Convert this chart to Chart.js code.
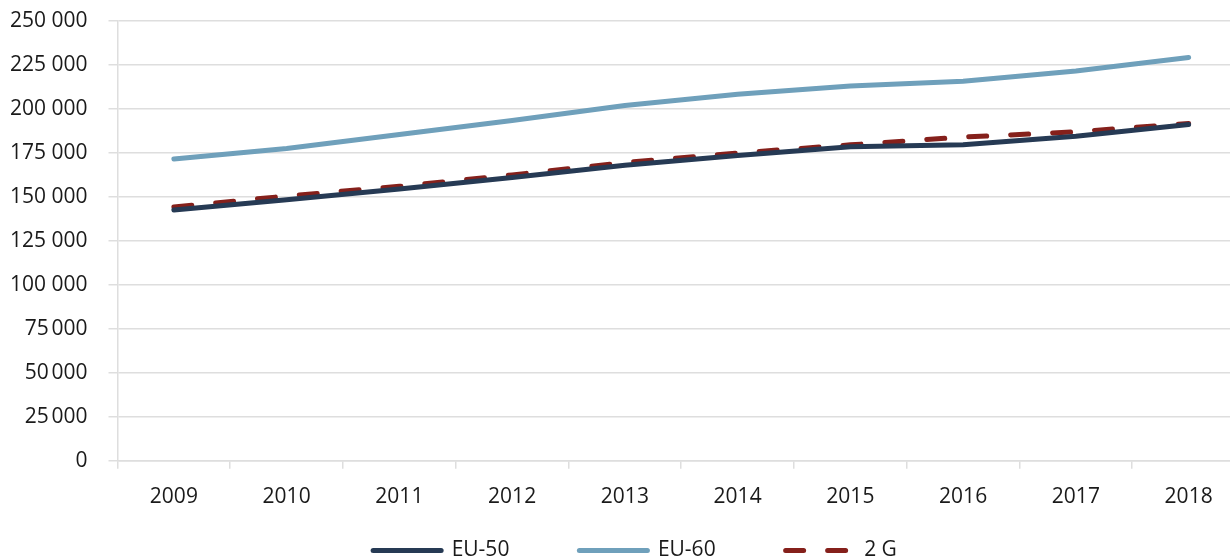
<!DOCTYPE html>
<html>
<head>
  <meta charset="UTF-8">
  <title>EU-50 / EU-60 / 2 G</title>
  <script src="https://cdn.jsdelivr.net/npm/chart.js"></script>
  <style>
    html, body { margin: 0; padding: 0; overflow: hidden; background: #fff; }
    #wrap { width: 1245px; height: 559px; }
  </style>
</head>
<body>
  <div id="wrap"><canvas id="chart" width="1245" height="559"></canvas></div>
  <script>
    const years = ['2009', '2010', '2011', '2012', '2013', '2014', '2015', '2016', '2017', '2018'];
    const eu50 = [142500, 148400, 154500, 161000, 168000, 173500, 178500, 179600, 184500, 191200];
    const eu60 = [171500, 177500, 185500, 193500, 202000, 208300, 213000, 215800, 221600, 229300];
    const g2   = [144300, 150500, 156000, 162500, 169500, 175000, 179600, 184000, 187000, 191800];

    const gridCol = '#dedede';
    const txtCol = '#1a1a1a';
    const family = "'Open Sans', 'Noto Sans', sans-serif";
    const axisFont = { family, size: 21 };
    const legFont = { family, size: 21 };
    const legGap = 70;

    function fmt(v) {
      if (v === 0) return '0';
      const s = String(v);
      const sep = v >= 100000 ? ' ' : '\u202F';
      return s.slice(0, -3) + sep + s.slice(-3);
    }

    // legend: wide gaps between items but a short box, placed like the original
    const legendFix = {
      id: 'legendFix',
      afterLayout(chart) {
        const lg = chart.legend;
        lg.right += 36;
        lg.top = lg.bottom - legGap - 19;
      }
    };

    new Chart(document.getElementById('chart'), {
      type: 'line',
      data: {
        labels: years,
        datasets: [
          { label: 'EU-50', data: eu50, borderColor: '#263a54', backgroundColor: '#263a54', borderWidth: 5, borderCapStyle: 'round', pointRadius: 0, tension: 0 },
          { label: 'EU-60', data: eu60, borderColor: '#6fa0bb', backgroundColor: '#6fa0bb', borderWidth: 5, borderCapStyle: 'round', pointRadius: 0, tension: 0 },
          { label: '2 G', data: g2, borderColor: '#85201b', backgroundColor: '#85201b', borderWidth: 5, borderCapStyle: 'round', borderDash: [18, 24], pointRadius: 0, tension: 0 }
        ]
      },
      plugins: [legendFix],
      options: {
        responsive: false,
        animation: false,
        layout: { padding: { top: 0, left: -11, right: 0, bottom: 0 } },
        plugins: {
          tooltip: { enabled: false },
          legend: {
            position: 'bottom',
            maxHeight: 33,
            labels: {
              usePointStyle: true,
              pointStyle: 'line',
              pointStyleWidth: 68,
              boxHeight: 5,
              padding: legGap,
              color: txtCol,
              font: legFont,
              generateLabels(chart) {
                return chart.data.datasets.map((ds, i) => ({
                  text: ds.label,
                  datasetIndex: i,
                  fillStyle: ds.borderColor,
                  strokeStyle: ds.borderColor,
                  fontColor: txtCol,
                  lineWidth: 5,
                  lineCap: 'round',
                  lineDash: ds.borderDash || [],
                  pointStyle: 'line',
                  hidden: false
                }));
              }
            }
          }
        },
        scales: {
          x: {
            offset: true,
            grid: { drawOnChartArea: false, color: gridCol, lineWidth: 1.5, tickLength: 8, offset: true },
            border: { color: gridCol, width: 1.5 },
            ticks: { color: txtCol, font: axisFont, padding: 16, maxRotation: 0 }
          },
          y: {
            min: 0, max: 250000,
            ticks: { stepSize: 25000, color: txtCol, font: axisFont, padding: 21, callback: v => fmt(v) },
            grid: { color: gridCol, lineWidth: 1.5, tickLength: 9 },
            border: { color: gridCol, width: 1.5 },
            afterFit(s) { s.paddingTop = 21; }
          }
        }
      }
    });
  </script>
</body>
</html>
